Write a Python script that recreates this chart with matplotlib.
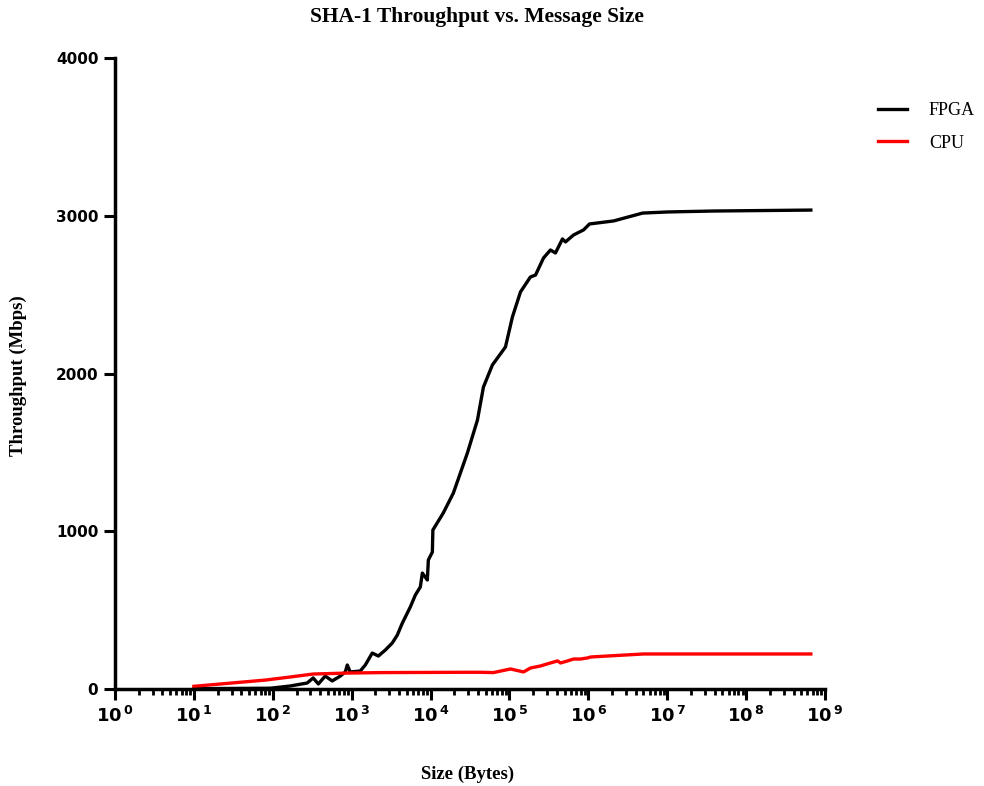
import numpy as np
import matplotlib
matplotlib.use("Agg")
import matplotlib.pyplot as plt
from matplotlib.ticker import LogLocator, FixedLocator, NullFormatter, FuncFormatter

# ---- data ----
fpga_size = [10, 93, 166, 273, 325, 378, 462, 567, 717, 830, 880, 958, 1285, 1488,
             1825, 2180, 2670, 3275, 3790, 4390, 5540, 6420, 7420, 7870, 9100, 9380,
             10540, 10700, 14500, 19450, 29300, 39300, 46800, 60800, 89000, 109000,
             138000, 184500, 214000, 270000, 331000, 383000, 470000, 513000, 649000,
             869000, 1035000, 2090000, 4880000, 10100000, 38800000, 661000000]
fpga_tp = [2, 5, 19, 38, 70, 32, 82, 51, 82, 108, 152, 108, 114, 152,
           228, 209, 247, 292, 342, 418, 520, 596, 647, 735, 691, 818,
           868, 1008, 1116, 1242, 1496, 1705, 1914, 2054, 2168, 2358,
           2517, 2612, 2624, 2732, 2783, 2764, 2853, 2834, 2878,
           2910, 2948, 2967, 3017, 3024, 3030, 3036]

cpu_size = [10, 82, 166, 325, 880, 2400, 30000, 42800, 62600, 103000, 151000, 184500,
            247000, 331000, 407000, 444000, 545000, 649000, 795000, 977000, 1070000,
            5020000, 38800000, 661000000]
cpu_tp = [17, 57, 76, 95, 101, 104, 106, 106, 104, 127, 108, 133,
          146, 165, 178, 165, 178, 190, 190, 197, 203,
          222, 222, 222]

series_names = ["FPGA", "CPU"]
series_colors = ["#000000", "#ff0000"]
y_ticks = [0, 1000, 2000, 3000, 4000]

title = "SHA-1 Throughput vs. Message Size"
xlabel = "Size (Bytes)"
ylabel = "Throughput (Mbps)"

plt.rcParams['mathtext.fontset'] = 'dejavusans'

fig = plt.figure(figsize=(9.84, 7.86), dpi=100)
ax = fig.add_axes([115/984, (786-689)/786, (825-115)/984, (689-58)/786])

l1, = ax.plot(fpga_size, fpga_tp, color=series_colors[0], lw=2.4, label=series_names[0])
l2, = ax.plot(cpu_size, cpu_tp, color=series_colors[1], lw=2.4, label=series_names[1])

ax.set_xscale('log')
ax.set_xlim(1, 1e9)
ax.set_ylim(0, 4000)
ax.set_yticks(y_ticks)
ax.set_yticklabels([str(v) for v in y_ticks], fontfamily='DejaVu Sans',
                   fontweight='bold', fontsize=11)

ax.xaxis.set_major_locator(FixedLocator([10.0**k for k in range(10)]))
ax.xaxis.set_minor_locator(LogLocator(base=10, subs=np.arange(2, 10), numticks=100))
ax.xaxis.set_minor_formatter(NullFormatter())
ax.xaxis.set_major_formatter(FuncFormatter(
    lambda v, p: r'10$^{\,\mathbf{%d}}$' % int(round(np.log10(v)))))
for t in ax.get_xticklabels():
    t.set_fontsize(13)
    t.set_fontweight('bold')
    t.set_fontfamily('DejaVu Sans')

for s in ['top', 'right']:
    ax.spines[s].set_visible(False)
for s in ['left', 'bottom']:
    ax.spines[s].set_linewidth(2.5)
ax.tick_params(axis='both', which='major', direction='out', length=8, width=2.2)
ax.tick_params(axis='x', which='minor', direction='out', length=4.5, width=2.0)
ax.tick_params(axis='x', which='major', pad=4)
ax.tick_params(axis='y', which='major', pad=4)

fig.text(477/984, 1 - 17/786, title, fontfamily='Liberation Serif', fontweight='bold',
         fontsize=15.5, ha='center', va='center')
ax.set_xlabel(xlabel, fontfamily='Liberation Serif', fontweight='bold', fontsize=13.5)
ax.xaxis.set_label_coords((468-115)/710, (689-766)/631)
ax.set_ylabel(ylabel, fontfamily='Liberation Serif', fontweight='bold', fontsize=13.5)
ax.yaxis.set_label_coords((27-115)/710, (689-376)/631)

fig.legend(handles=[l1, l2], loc='upper left', bbox_to_anchor=(862/984, 1 - 86/786),
           frameon=False, prop={'family': 'Liberation Serif', 'size': 13},
           handlelength=1.6, labelspacing=0.85, handletextpad=1.2)

fig.savefig("out.png", dpi=100)
